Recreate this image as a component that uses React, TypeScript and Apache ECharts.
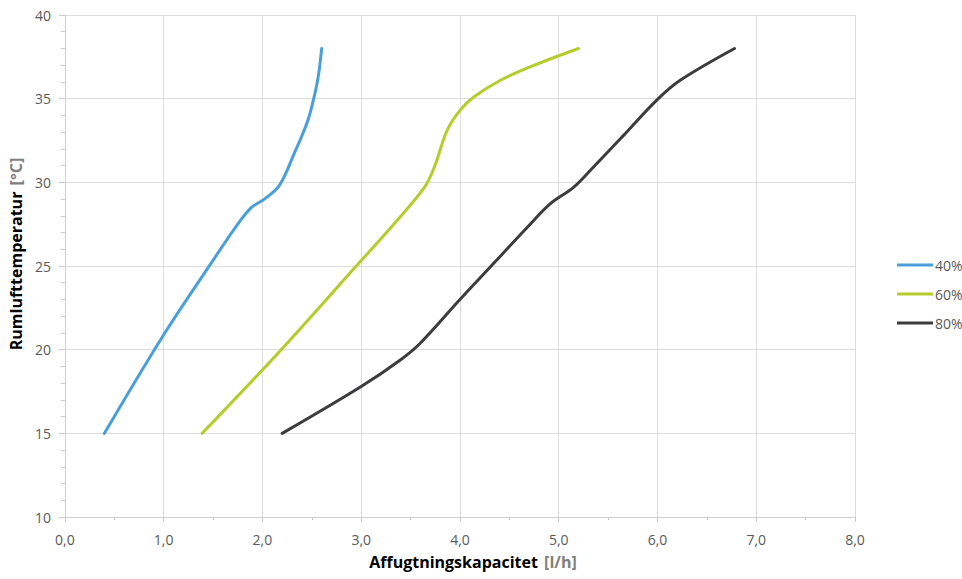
import React, { useEffect, useRef } from "react";
import * as echarts from "echarts";

const seriesNames = ["40%", "60%", "80%"];

const blueX = [0.4, 0.98, 1.45, 1.75, 1.89, 2.02, 2.17, 2.32, 2.46, 2.535, 2.57, 2.6];
const blueY = [15, 20.7, 24.9, 27.5, 28.5, 29.0, 29.8, 31.7, 33.7, 35.4, 36.5, 38];

const greenX = [1.39, 2.19, 2.95, 3.33, 3.64, 3.74, 3.87, 4.0, 4.14, 4.41, 4.71, 5.2];
const greenY = [15, 20, 25, 27.5, 29.7, 30.9, 33.1, 34.3, 35.1, 36.1, 36.9, 38];

const blackX = [2.2, 3.0, 3.4, 3.6, 4.0, 4.38, 4.68, 4.91, 5.15, 5.35, 5.64, 5.99, 6.23, 6.78];
const blackY = [15, 17.8, 19.4, 20.4, 23.0, 25.4, 27.3, 28.7, 29.7, 30.9, 32.7, 34.9, 36.1, 38];

const colors = ["#4a9fd9", "#b5cd2c", "#3c3c3e"];

const xTitle = "Affugtningskapacitet";
const xUnit = "[l/h]";
const yTitle = "Rumlufttemperatur";
const yUnit = "[°C]";

const FONT = "'Open Sans', 'Noto Sans', sans-serif";

function pairs(xs: number[], ys: number[]) {
  return xs.map((x, i) => [x, ys[i]]);
}

export default function App() {
  const ref = useRef<HTMLDivElement>(null);
  useEffect(() => {
    if (!ref.current) return;
    const chart = echarts.init(ref.current, null, { renderer: "svg" });
    const datasets = [pairs(blueX, blueY), pairs(greenX, greenY), pairs(blackX, blackY)];
    chart.setOption({
      animation: false,
      backgroundColor: "#ffffff",
      textStyle: { fontFamily: FONT },
      grid: { left: 63, right: 107, top: 15, bottom: 62, containLabel: false },
      legend: {
        orient: "vertical",
        left: 892,
        top: 253,
        itemWidth: 36,
        itemHeight: 3,
        itemGap: 15,
        icon: "rect",
        textStyle: { color: "#595959", fontSize: 14, fontFamily: FONT, padding: [0, 0, 0, -3] },
        data: seriesNames,
      },
      xAxis: {
        type: "value",
        min: 0,
        max: 8,
        interval: 1,
        name: `{b|${xTitle}}  {g|${xUnit}}`,
        nameLocation: "middle",
        nameGap: 37,
        nameTextStyle: {
          padding: [0, 0, 0, 26],
          rich: {
            b: { fontWeight: "bold", fontSize: 16, color: "#000000", fontFamily: FONT },
            g: { fontWeight: "bold", fontSize: 16, color: "#7f7f7f", fontFamily: FONT },
          },
        },
        axisLine: { show: true, lineStyle: { color: "#d0d0d0", width: 1 } },
        axisTick: { show: true, length: 5, lineStyle: { color: "#c8c8c8" } },
        minorTick: { show: true, splitNumber: 2, length: 3, lineStyle: { color: "#c8c8c8" } },
        axisLabel: {
          color: "#595959",
          fontSize: 14,
          margin: 15,
          fontFamily: FONT,
          formatter: (v: number) => v.toFixed(1).replace(".", ","),
        },
        splitLine: { show: true, lineStyle: { color: "#dcdcdc", width: 1 } },
      },
      yAxis: {
        type: "value",
        min: 10,
        max: 40,
        interval: 5,
        name: `{b|${yTitle}}  {g|${yUnit}}`,
        nameLocation: "middle",
        nameGap: 36,
        nameTextStyle: {
          padding: [0, 0, 0, 24],
          rich: {
            b: { fontWeight: "bold", fontSize: 16, color: "#000000", fontFamily: FONT },
            g: { fontWeight: "bold", fontSize: 16, color: "#7f7f7f", fontFamily: FONT },
          },
        },
        axisLine: { show: true, lineStyle: { color: "#d0d0d0", width: 1 } },
        axisTick: { show: true, length: 6, lineStyle: { color: "#c8c8c8" } },
        minorTick: { show: true, splitNumber: 5, length: 4, lineStyle: { color: "#c8c8c8" } },
        axisLabel: { color: "#595959", fontSize: 14, margin: 14, fontFamily: FONT },
        splitLine: { show: true, lineStyle: { color: "#dcdcdc", width: 1 } },
      },
      series: datasets.map((d, i) => ({
        name: seriesNames[i],
        type: "line",
        data: d,
        smooth: 0.35,
        symbol: "none",
        lineStyle: { color: colors[i], width: 3, cap: "round" },
        itemStyle: { color: colors[i] },
      })),
    });
    return () => chart.dispose();
  }, []);
  return (
    <div
      ref={ref}
      style={{ position: "fixed", left: 0, top: 0, width: 962, height: 579, background: "#fff" }}
    />
  );
}
